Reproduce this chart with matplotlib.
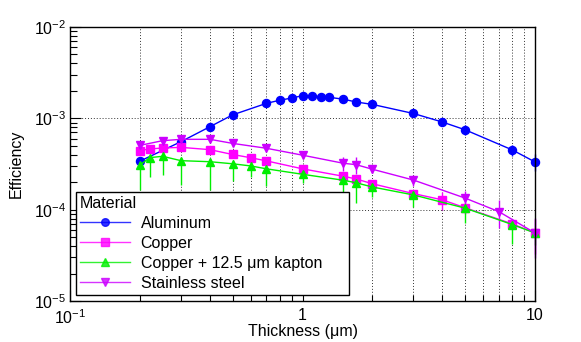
import matplotlib
matplotlib.use("Agg")

import matplotlib.pyplot as plt
from matplotlib.lines import Line2D
from matplotlib.ticker import FixedLocator, FixedFormatter, LogLocator, NullFormatter

plt.rcParams["font.family"] = ["Liberation Sans", "DejaVu Sans"]
plt.rcParams["mathtext.fontset"] = "custom"
plt.rcParams["mathtext.rm"] = "Liberation Sans"
plt.rcParams["mathtext.it"] = "Liberation Sans:italic"

# Data (thickness in um, efficiency)
al_x = [0.2, 0.3, 0.4, 0.5, 0.7, 0.8, 0.9, 1.0, 1.1, 1.2, 1.3, 1.5, 1.7, 2, 3, 4, 5, 8, 10]
al_y = [3.4e-4, 5.55e-4, 8.1e-4, 1.09e-3, 1.46e-3, 1.58e-3, 1.67e-3, 1.77e-3, 1.74e-3, 1.73e-3,
        1.70e-3, 1.62e-3, 1.51e-3, 1.42e-3, 1.13e-3, 9.1e-4, 7.5e-4, 4.5e-4, 3.33e-4]
al_err = [2.5e-5, 3e-5, 4e-5, 5e-5, 6e-5, 6e-5, 6e-5, 6e-5, 6e-5, 6e-5,
          6e-5, 6e-5, 6e-5, 7e-5, 7e-5, 7e-5, 9e-5, 6e-5, 7e-5]

cu_x = [0.2, 0.22, 0.25, 0.3, 0.4, 0.5, 0.6, 0.7, 1.0, 1.5, 1.7, 2, 3, 4, 5, 8, 10]
cu_y = [4.43e-4, 4.62e-4, 4.73e-4, 4.81e-4, 4.54e-4, 4.02e-4, 3.70e-4, 3.42e-4, 2.80e-4,
        2.32e-4, 2.17e-4, 1.92e-4, 1.50e-4, 1.28e-4, 1.05e-4, 6.97e-5, 5.56e-5]
cu_err = [2e-5, 2e-5, 2e-5, 2e-5, 2e-5, 1.5e-5, 1.5e-5, 1.5e-5, 1.5e-5,
          2e-5, 2e-5, 1.5e-5, 1.5e-5, 3e-5, 1.5e-5, 1e-5, 2.3e-5]

kap_x = [0.2, 0.22, 0.25, 0.3, 0.4, 0.5, 0.6, 0.7, 1.0, 1.5, 1.7, 2, 3, 5, 8, 10]
kap_y = [3.08e-4, 3.71e-4, 3.84e-4, 3.44e-4, 3.35e-4, 3.18e-4, 3.01e-4, 2.80e-4, 2.44e-4,
         2.10e-4, 1.97e-4, 1.77e-4, 1.45e-4, 1.04e-4, 6.86e-5, 5.56e-5]
kap_err_lo = [1.44e-4, 1.43e-4, 1.44e-4, 1.6e-4, 1.7e-4, 1.1e-4, 7.3e-5, 1.0e-4, 4.9e-5,
              5.3e-5, 7.8e-5, 3.9e-5, 3.7e-5, 3.2e-5, 2.6e-5, 1.5e-5]
kap_err_hi = [2e-5, 2e-5, 2e-5, 2e-5, 2e-5, 2e-5, 1.5e-5, 1.5e-5, 1.2e-5,
              1.2e-5, 1.2e-5, 1e-5, 1e-5, 8e-6, 6e-6, 5e-6]

ss_x = [0.2, 0.25, 0.3, 0.4, 0.5, 0.7, 1.0, 1.5, 1.7, 2, 3, 5, 7, 10]
ss_y = [5.06e-4, 5.69e-4, 5.89e-4, 5.89e-4, 5.32e-4, 4.70e-4, 3.95e-4, 3.22e-4, 3.11e-4,
        2.77e-4, 2.11e-4, 1.34e-4, 9.5e-5, 5.56e-5]
ss_err = [2.5e-5, 2.5e-5, 3e-5, 3e-5, 2.5e-5, 2.5e-5, 2.5e-5, 5.5e-5, 6.5e-5,
          2.7e-5, 2.8e-5, 2.7e-5, 3.2e-5, 2.6e-5]

labels = ["Aluminum", "Copper", "Copper + 12.5 μm kapton", "Stainless steel"]
colors = ["#0000ff", "#ff00ff", "#00ee00", "#cc00ff"]
markers = ["o", "s", "^", "v"]

series = [
    (al_x, al_y, al_err),
    (cu_x, cu_y, cu_err),
    (kap_x, kap_y, [kap_err_lo, kap_err_hi]),
    (ss_x, ss_y, ss_err),
]

fig = plt.figure(figsize=(5.81, 3.42), dpi=100)
ax = fig.add_axes([70 / 581, 41 / 342, 465 / 581, 274 / 342])

for (x, y, err), c, m in zip(series, colors, markers):
    ax.errorbar(
        x, y, yerr=err,
        color=c, marker=m, markersize=5.8, linewidth=1,
        elinewidth=1, capsize=0, clip_on=False
    )

ax.set_xscale("log")
ax.set_yscale("log")
ax.set_xlim(0.1, 10)
ax.set_ylim(1e-5, 1e-2)

ax.xaxis.set_major_locator(FixedLocator([0.1, 1, 10]))
ax.xaxis.set_major_formatter(FixedFormatter(["$10^{-1}$", "1", "10"]))
ax.xaxis.set_minor_locator(LogLocator(base=10, subs=range(2, 10)))
ax.xaxis.set_minor_formatter(NullFormatter())

ax.yaxis.set_major_locator(FixedLocator([1e-5, 1e-4, 1e-3, 1e-2]))
ax.yaxis.set_major_formatter(
    FixedFormatter(["$10^{-5}$", "$10^{-4}$", "$10^{-3}$", "$10^{-2}$"])
)
ax.yaxis.set_minor_locator(LogLocator(base=10, subs=range(2, 10)))
ax.yaxis.set_minor_formatter(NullFormatter())

ax.tick_params(which="both", direction="in", top=False, right=False,
               labelsize=11.5, width=0.8)
ax.tick_params(axis="x", which="major", length=8, pad=5)
ax.tick_params(axis="x", which="minor", length=4)
ax.tick_params(axis="y", which="major", length=8, pad=3)
ax.tick_params(axis="y", which="minor", length=5)

ax.grid(True, which="major", axis="both", color="k", linestyle=(0, (1, 2)), linewidth=0.7, alpha=0.8)
ax.grid(True, which="minor", axis="x", color="k", linestyle=(0, (1, 2)), linewidth=0.7, alpha=0.8)

for s in ax.spines.values():
    s.set_linewidth(1)

ax.set_xlabel("Thickness (μm)", fontsize=11.5, labelpad=-2)
ax.set_ylabel("Efficiency", fontsize=11.5, labelpad=7)

handles = [
    Line2D([], [], color=c, marker=m, markersize=5.5, linewidth=1, alpha=0.8)
    for c, m in zip(colors, markers)
]
leg = ax.legend(
    handles, labels,
    title="Material", title_fontsize=11.5, fontsize=11.5,
    loc="lower left", bbox_to_anchor=(0.013, 0.022, 0.587, 0.4),
    mode="expand", alignment="left",
    frameon=True, fancybox=False, framealpha=1, edgecolor="k",
    borderpad=0.25, labelspacing=0.32, handlelength=3.1, handletextpad=0.7,
    borderaxespad=0
)
leg.get_frame().set_linewidth(1)
leg.set_zorder(5)

fig.savefig("out.png", dpi=100)
